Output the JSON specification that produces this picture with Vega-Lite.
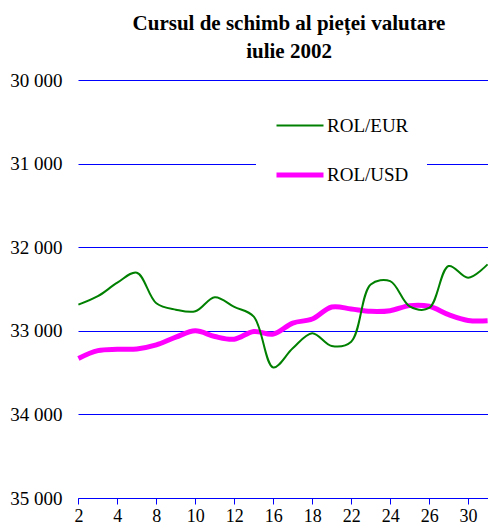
{
  "$schema": "https://vega.github.io/schema/vega-lite/v6.json",
  "width": 410,
  "height": 418,
  "autosize": {"type": "none"},
  "padding": {"left": 78, "top": 80, "right": 0, "bottom": 32},
  "background": "white",
  "title": {
    "text": ["Cursul de schimb al pieței valutare", "iulie 2002"],
    "font": "Liberation Serif",
    "fontSize": 21,
    "fontWeight": "bold",
    "color": "black",
    "anchor": "middle",
    "lineHeight": 28,
    "offset": 9,
    "dx": 6
  },
  "config": {
    "view": {"stroke": null},
    "font": "Liberation Serif"
  },
  "data": {
    "values": [
      {"day": "2", "series": "ROL/USD", "rate": 33330},
      {"day": "3", "series": "ROL/USD", "rate": 33237},
      {"day": "4", "series": "ROL/USD", "rate": 33221},
      {"day": "5", "series": "ROL/USD", "rate": 33217},
      {"day": "8", "series": "ROL/USD", "rate": 33169},
      {"day": "9", "series": "ROL/USD", "rate": 33076},
      {"day": "10", "series": "ROL/USD", "rate": 33000},
      {"day": "11", "series": "ROL/USD", "rate": 33068},
      {"day": "12", "series": "ROL/USD", "rate": 33100},
      {"day": "15", "series": "ROL/USD", "rate": 33008},
      {"day": "16", "series": "ROL/USD", "rate": 33040},
      {"day": "17", "series": "ROL/USD", "rate": 32908},
      {"day": "18", "series": "ROL/USD", "rate": 32859},
      {"day": "19", "series": "ROL/USD", "rate": 32715},
      {"day": "22", "series": "ROL/USD", "rate": 32739},
      {"day": "23", "series": "ROL/USD", "rate": 32767},
      {"day": "24", "series": "ROL/USD", "rate": 32759},
      {"day": "25", "series": "ROL/USD", "rate": 32699},
      {"day": "26", "series": "ROL/USD", "rate": 32707},
      {"day": "29", "series": "ROL/USD", "rate": 32807},
      {"day": "30", "series": "ROL/USD", "rate": 32876},
      {"day": "31", "series": "ROL/USD", "rate": 32880},
      {"day": "2", "series": "ROL/EUR", "rate": 32687},
      {"day": "3", "series": "ROL/EUR", "rate": 32586},
      {"day": "4", "series": "ROL/EUR", "rate": 32425},
      {"day": "5", "series": "ROL/EUR", "rate": 32305},
      {"day": "8", "series": "ROL/EUR", "rate": 32670},
      {"day": "9", "series": "ROL/EUR", "rate": 32747},
      {"day": "10", "series": "ROL/EUR", "rate": 32767},
      {"day": "11", "series": "ROL/EUR", "rate": 32598},
      {"day": "12", "series": "ROL/EUR", "rate": 32715},
      {"day": "15", "series": "ROL/EUR", "rate": 32830},
      {"day": "16", "series": "ROL/EUR", "rate": 33438},
      {"day": "17", "series": "ROL/EUR", "rate": 33209},
      {"day": "18", "series": "ROL/EUR", "rate": 33028},
      {"day": "19", "series": "ROL/EUR", "rate": 33181},
      {"day": "22", "series": "ROL/EUR", "rate": 33130},
      {"day": "23", "series": "ROL/EUR", "rate": 32446},
      {"day": "24", "series": "ROL/EUR", "rate": 32406},
      {"day": "25", "series": "ROL/EUR", "rate": 32707},
      {"day": "26", "series": "ROL/EUR", "rate": 32727},
      {"day": "29", "series": "ROL/EUR", "rate": 32225},
      {"day": "30", "series": "ROL/EUR", "rate": 32365},
      {"day": "31", "series": "ROL/EUR", "rate": 32205}
    ]
  },
  "mark": {"type": "line", "interpolate": "catmull-rom"},
  "encoding": {
    "x": {
      "field": "day",
      "type": "nominal",
      "sort": null,
      "scale": {"type": "point", "padding": 0.02},
      "axis": {
        "title": null,
        "values": ["2", "4", "8", "10", "12", "16", "18", "22", "24", "26", "30"],
        "labelAngle": 0,
        "labelOverlap": false,
        "labelFont": "Liberation Serif",
        "labelFontSize": 18,
        "labelColor": "black",
        "labelPadding": 3,
        "ticks": true,
        "tickColor": "#0000ff",
        "tickSize": 6,
        "tickWidth": 1,
        "domain": true,
        "domainColor": "#0000ff",
        "grid": false
      }
    },
    "y": {
      "field": "rate",
      "type": "quantitative",
      "scale": {"domain": [30000, 35000], "reverse": true, "nice": false, "zero": false},
      "axis": {
        "title": null,
        "values": [30000, 31000, 32000, 33000, 34000, 35000],
        "labelExpr": "replace(format(datum.value, ','), ',', ' ')",
        "labelFont": "Liberation Serif",
        "labelFontSize": 19,
        "labelColor": "black",
        "labelPadding": 16,
        "labelOverlap": false,
        "labelFlush": false,
        "ticks": false,
        "domain": false,
        "grid": true,
        "gridColor": "#0000ff",
        "gridOpacity": 1,
        "gridWidth": 1
      }
    },
    "color": {
      "field": "series",
      "type": "nominal",
      "scale": {"domain": ["ROL/EUR", "ROL/USD"], "range": ["#008000", "#ff00ff"]},
      "legend": {
        "title": null,
        "orient": "none",
        "legendX": 178,
        "legendY": 3,
        "padding": 18,
        "fillColor": "white",
        "symbolType": "stroke",
        "symbolSize": 2209,
        "rowPadding": 13,
        "labelFont": "Liberation Serif",
        "labelFontSize": 19,
        "labelColor": "black",
        "labelOffset": 1
      }
    },
    "strokeWidth": {
      "field": "series",
      "type": "nominal",
      "scale": {"domain": ["ROL/EUR", "ROL/USD"], "range": [2, 5]},
      "legend": {
        "title": null,
        "orient": "none",
        "legendX": 178,
        "legendY": 3,
        "padding": 18,
        "fillColor": "white",
        "symbolType": "stroke",
        "symbolSize": 2209,
        "rowPadding": 13,
        "labelFont": "Liberation Serif",
        "labelFontSize": 19,
        "labelColor": "black",
        "labelOffset": 1
      }
    }
  }
}
